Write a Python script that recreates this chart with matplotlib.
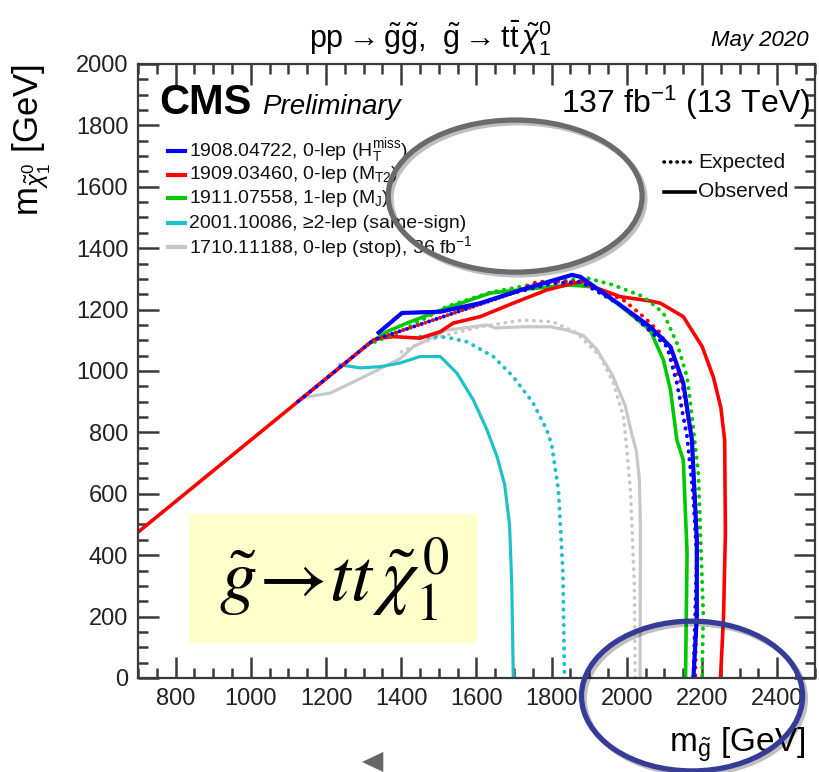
import matplotlib
matplotlib.use("Agg")
import matplotlib.pyplot as plt
from matplotlib.patches import Ellipse, Rectangle, Polygon
from matplotlib.ticker import MultipleLocator
import matplotlib.patheffects as pe

plt.rcParams['font.family'] = ['Liberation Sans', 'DejaVu Sans']
plt.rcParams['mathtext.fontset'] = 'custom'
plt.rcParams['mathtext.rm'] = 'Liberation Sans'
plt.rcParams['mathtext.it'] = 'Liberation Sans:italic'
plt.rcParams['mathtext.bf'] = 'Liberation Sans:bold'

# --- limit contours (m_gluino, m_LSP) in GeV ---
red_obs_x = [700, 1326, 1352, 1380, 1450, 1504, 1538, 1610, 1698, 1787, 1858, 1885, 1911, 1983, 2062,
             2089, 2150, 2200, 2230, 2250, 2260, 2262, 2257, 2249]
red_obs_y = [475, 1101, 1108, 1112, 1107, 1128, 1156, 1177, 1221, 1264, 1286, 1291, 1274, 1242, 1228,
             1221, 1177, 1080, 980, 880, 775, 472, 200, 0]
red_exp_x = [1126, 1326, 1432, 1565, 1698, 1761, 1876, 1991, 2044, 2089, 2124, 2150, 2172, 2188, 2182]
red_exp_y = [901, 1101, 1144, 1199, 1254, 1291, 1291, 1231, 1177, 1124, 1036, 938, 775, 450, 0]

blue_obs_x = [1340, 1402, 1504, 1610, 1734, 1854, 1876, 1964, 2062, 2116, 2150, 2173, 2186, 2186, 2177]
blue_obs_y = [1125, 1189, 1193, 1221, 1270, 1313, 1307, 1231, 1144, 1079, 961, 775, 450, 200, 0]
blue_exp_x = [1126, 1326, 1432, 1565, 1698, 1800, 1876, 1991, 2107, 2133, 2160, 2176, 2186, 2177]
blue_exp_y = [901, 1101, 1144, 1199, 1254, 1285, 1291, 1209, 1079, 961, 786, 600, 395, 0]

green_obs_x = [1310, 1362, 1415, 1521, 1637, 1761, 1850, 1911, 1974, 2062, 2097, 2116, 2133, 2150,
               2160, 2156]
green_obs_y = [1085, 1128, 1156, 1205, 1254, 1270, 1280, 1274, 1221, 1133, 1036, 938, 775, 710, 407, 0]
green_exp_x = [1310, 1397, 1521, 1637, 1761, 1894, 1964, 2044, 2097, 2133, 2160, 2169, 2190, 2203, 2200]
green_exp_y = [1085, 1128, 1210, 1256, 1285, 1303, 1280, 1242, 1189, 1091, 981, 895, 668, 212, 0]

cyan_obs_x = [1237, 1291, 1344, 1397, 1450, 1504, 1548, 1592, 1628, 1655, 1675, 1688, 1694, 1698]
cyan_obs_y = [1020, 1010, 1014, 1026, 1047, 1047, 993, 905, 808, 720, 630, 500, 300, 0]
cyan_exp_x = [1450, 1520, 1575, 1645, 1698, 1751, 1787, 1800, 1818, 1830, 1834]
cyan_exp_y = [1112, 1110, 1095, 1047, 981, 895, 808, 760, 612, 342, 0]

gray_obs_x = [1131, 1211, 1299, 1397, 1432, 1521, 1628, 1650, 1724, 1796, 1841, 1885, 1920, 1960,
              1995, 2012, 2025, 2033, 2036, 2035]
gray_obs_y = [912, 928, 980, 1040, 1079, 1133, 1150, 1140, 1144, 1144, 1133, 1115, 1070, 990,
              890, 800, 740, 650, 500, 0]
gray_exp_x = [1400, 1450, 1521, 1610, 1724, 1804, 1867, 1929, 1964, 1991, 2000, 2010, 2020, 2022]
gray_exp_y = [1062, 1091, 1117, 1144, 1166, 1160, 1124, 1047, 961, 851, 743, 600, 300, 0]

legend_labels = [
    r'1908.04722, 0-lep ($\mathrm{H}_\mathrm{T}^\mathrm{miss}$)',
    r'1909.03460, 0-lep ($\mathrm{M}_\mathrm{T2}$)',
    r'1911.07558, 1-lep ($\mathrm{M}_\mathrm{J}$)',
    '2001.10086, \u22652-lep (same-sign)',
    r'1710.11188, 0-lep (stop), 36 fb$^{-1}$',
]
legend_colors = ['#0000ff', '#ff0000', '#00c800', '#20c0c8', '#c8c8c8']

fig = plt.figure(figsize=(8.19, 7.72), dpi=100)
ax = fig.add_axes([0.1685, 0.1218, 0.8265, 0.7953])

dot = (0, (0.1, 1.9))
dot2 = (1.0, (0.1, 1.9))
lw = 2.6

ax.plot(gray_obs_x, gray_obs_y, color='#c8c8c8', lw=2.3)
ax.plot(gray_exp_x, gray_exp_y, color='#c8c8c8', lw=2.6, ls=dot, dash_capstyle='round')
ax.plot(cyan_obs_x, cyan_obs_y, color='#20c0c8', lw=2.3)
ax.plot(cyan_exp_x, cyan_exp_y, color='#20c0c8', lw=2.8, ls=dot, dash_capstyle='round')
ax.plot(green_obs_x, green_obs_y, color='#00c800', lw=lw)
ax.plot(red_obs_x, red_obs_y, color='#ff0000', lw=lw)
ax.plot(green_exp_x, green_exp_y, color='#00c800', lw=2.8, ls=dot, dash_capstyle='round')
ax.plot(red_exp_x, red_exp_y, color='#ff0000', lw=2.8, ls=dot2, dash_capstyle='round')
ax.plot(blue_exp_x, blue_exp_y, color='#0000ff', lw=2.8, ls=dot, dash_capstyle='round')
ax.plot(blue_obs_x, blue_obs_y, color='#0000ff', lw=3.0)

ax.set_xlim(700, 2500)
ax.set_ylim(0, 2000)
ax.xaxis.set_major_locator(MultipleLocator(200))
ax.xaxis.set_minor_locator(MultipleLocator(50))
ax.yaxis.set_major_locator(MultipleLocator(200))
ax.yaxis.set_minor_locator(MultipleLocator(50))
ax.tick_params(which='both', direction='in', top=True, right=True, color='#3a3a3a',
               labelsize=17, labelcolor='#222222', width=1.8)
ax.tick_params(which='major', length=15, pad=7)
ax.tick_params(which='minor', length=7.5)
for s in ax.spines.values():
    s.set_color('#3a3a3a')
    s.set_linewidth(1.6)

# legend (hand placed)
rows = [0.859, 0.820, 0.781, 0.741, 0.702]
for yy, lab, col in zip(rows, legend_labels, legend_colors):
    ax.plot([0.044, 0.069], [yy, yy], color=col, lw=3, transform=ax.transAxes, clip_on=False)
    ax.text(0.076, yy, lab, transform=ax.transAxes, fontsize=14, va='center', ha='left', color='#111111')

ax.plot([0.777, 0.823], [0.840, 0.840], color='k', lw=2.6, ls=(0, (0.1, 1.7)), dash_capstyle='round',
        transform=ax.transAxes)
ax.text(0.827, 0.840, 'Expected', transform=ax.transAxes, fontsize=15, va='center', color='#111111')
ax.plot([0.777, 0.823], [0.792, 0.792], color='k', lw=2.6, transform=ax.transAxes)
ax.text(0.827, 0.792, 'Observed', transform=ax.transAxes, fontsize=15, va='center', color='#111111')

ax.text(0.031, 0.936, 'CMS', transform=ax.transAxes, fontsize=30, fontweight='bold', va='center')
ax.text(0.183, 0.930, 'Preliminary', transform=ax.transAxes, fontsize=20, style='italic', va='center')
ax.text(0.993, 0.936, r'137 fb$^{-1}$ (13 TeV)', transform=ax.transAxes, fontsize=23,
        va='center', ha='right')

# yellow box
ax.add_patch(Rectangle((0.0753, 0.057), 0.4254, 0.210, transform=ax.transAxes,
                       facecolor='#ffffcc', edgecolor='none', zorder=3))
ax.text(0.290, 0.160, r'$\tilde{g}\!\rightarrow\! tt\,\tilde{\chi}_1^{\,0}$', transform=ax.transAxes,
        fontsize=54, math_fontfamily='stix', ha='center', va='center', zorder=4)

fig.text(0.525, 0.951,
         r'pp$\rightarrow$$\tilde{\mathrm{g}}\tilde{\mathrm{g}}$,  $\tilde{\mathrm{g}}$$\rightarrow$t$\bar{\mathrm{t}}\,\tilde{\chi}^0_1$',
         fontsize=22, ha='center', va='center')
fig.text(0.987, 0.948, 'May 2020', fontsize=16, style='italic', ha='right', va='center')
fig.text(0.983, 0.035, r'$\mathrm{m}_{\tilde{\mathrm{g}}}$ [GeV]', fontsize=24, ha='right', va='center')
fig.text(0.039, 0.818, r'$\mathrm{m}_{\tilde{\chi}^0_1}$ [GeV]', fontsize=25, rotation=90,
         ha='center', va='center')

# slide annotations
shadow = [pe.SimpleLineShadow(offset=(2, -2), alpha=0.25, shadow_color='k'), pe.Normal()]
e1 = Ellipse((0.629, 0.746), 0.310, 0.197, transform=fig.transFigure, fill=False,
             edgecolor='#6b6b6b', lw=3.8, zorder=10)
e1.set_path_effects(shadow)
fig.patches.append(e1)
e2 = Ellipse((0.845, 0.0984), 0.270, 0.194, transform=fig.transFigure, fill=False,
             edgecolor='#363b98', lw=3.8, zorder=10)
e2.set_path_effects(shadow)
fig.patches.append(e2)
tri = Polygon([(0.442, 0.0130), (0.468, 0.026), (0.468, 0.0)], closed=True,
              transform=fig.transFigure, facecolor='#666666', edgecolor='none')
fig.patches.append(tri)

fig.savefig('out.png', dpi=100)
